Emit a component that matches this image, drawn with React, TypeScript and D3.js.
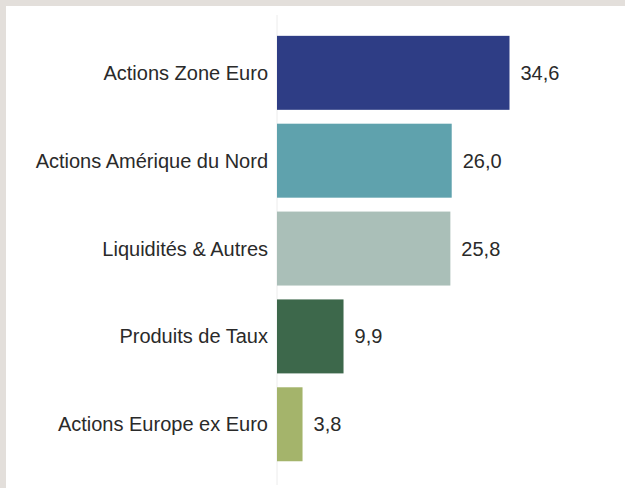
import React, { useEffect, useRef } from "react";
import * as d3 from "d3";

const categories = [
  "Actions Zone Euro",
  "Actions Amérique du Nord",
  "Liquidités & Autres",
  "Produits de Taux",
  "Actions Europe ex Euro",
];
const values = [34.6, 26.0, 25.8, 9.9, 3.8];
const colors = ["#2e3d85", "#5fa2ad", "#aabfb8", "#3d684b", "#a4b46b"];

const W = 625;
const H = 488;

const App = () => {
  const ref = useRef<SVGSVGElement>(null);

  useEffect(() => {
    const svg = d3.select(ref.current);
    svg.selectAll("*").remove();

    // page frame
    svg.append("rect").attr("width", W).attr("height", H).attr("fill", "#e3dfdb");
    svg
      .append("rect")
      .attr("x", 6)
      .attr("y", 6)
      .attr("width", W - 6)
      .attr("height", H - 6)
      .attr("fill", "#ffffff");

    const x0 = 277;
    const x = d3.scaleLinear().domain([0, 34.6]).range([x0, 509.5]);
    const y = d3
      .scaleBand<string>()
      .domain(categories)
      .range([28.9, 468.2])
      .paddingInner(0.158)
      .paddingOuter(0.079);

    const data = categories.map((c, i) => ({ cat: c, value: values[i], color: colors[i] }));

    // axis line
    svg
      .append("line")
      .attr("x1", x0)
      .attr("x2", x0)
      .attr("y1", 15)
      .attr("y2", 485)
      .attr("stroke", "#ececec")
      .attr("stroke-width", 1);

    svg
      .append("g")
      .selectAll("rect")
      .data(data)
      .enter()
      .append("rect")
      .attr("x", x(0))
      .attr("y", (d) => y(d.cat)!)
      .attr("width", (d) => x(d.value) - x(0))
      .attr("height", y.bandwidth())
      .attr("fill", (d) => d.color);

    const fmt = (v: number) => v.toFixed(1).replace(".", ",");

    const labels = svg
      .append("g")
      .attr("font-family", "'Liberation Sans', Arial, sans-serif")
      .attr("font-size", 20)
      .attr("fill", "#2a2a2a");

    labels
      .selectAll("text.cat")
      .data(data)
      .enter()
      .append("text")
      .attr("class", "cat")
      .attr("x", x0 - 9)
      .attr("y", (d) => y(d.cat)! + y.bandwidth() / 2)
      .attr("dy", "0.35em")
      .attr("text-anchor", "end")
      .text((d) => d.cat);

    labels
      .selectAll("text.val")
      .data(data)
      .enter()
      .append("text")
      .attr("class", "val")
      .attr("x", (d) => x(d.value) + 11)
      .attr("y", (d) => y(d.cat)! + y.bandwidth() / 2)
      .attr("dy", "0.35em")
      .text((d) => fmt(d.value));
  }, []);

  return (
    <svg
      ref={ref}
      width={W}
      height={H}
      style={{ position: "absolute", left: 0, top: 0, display: "block" }}
    />
  );
};

export default App;
